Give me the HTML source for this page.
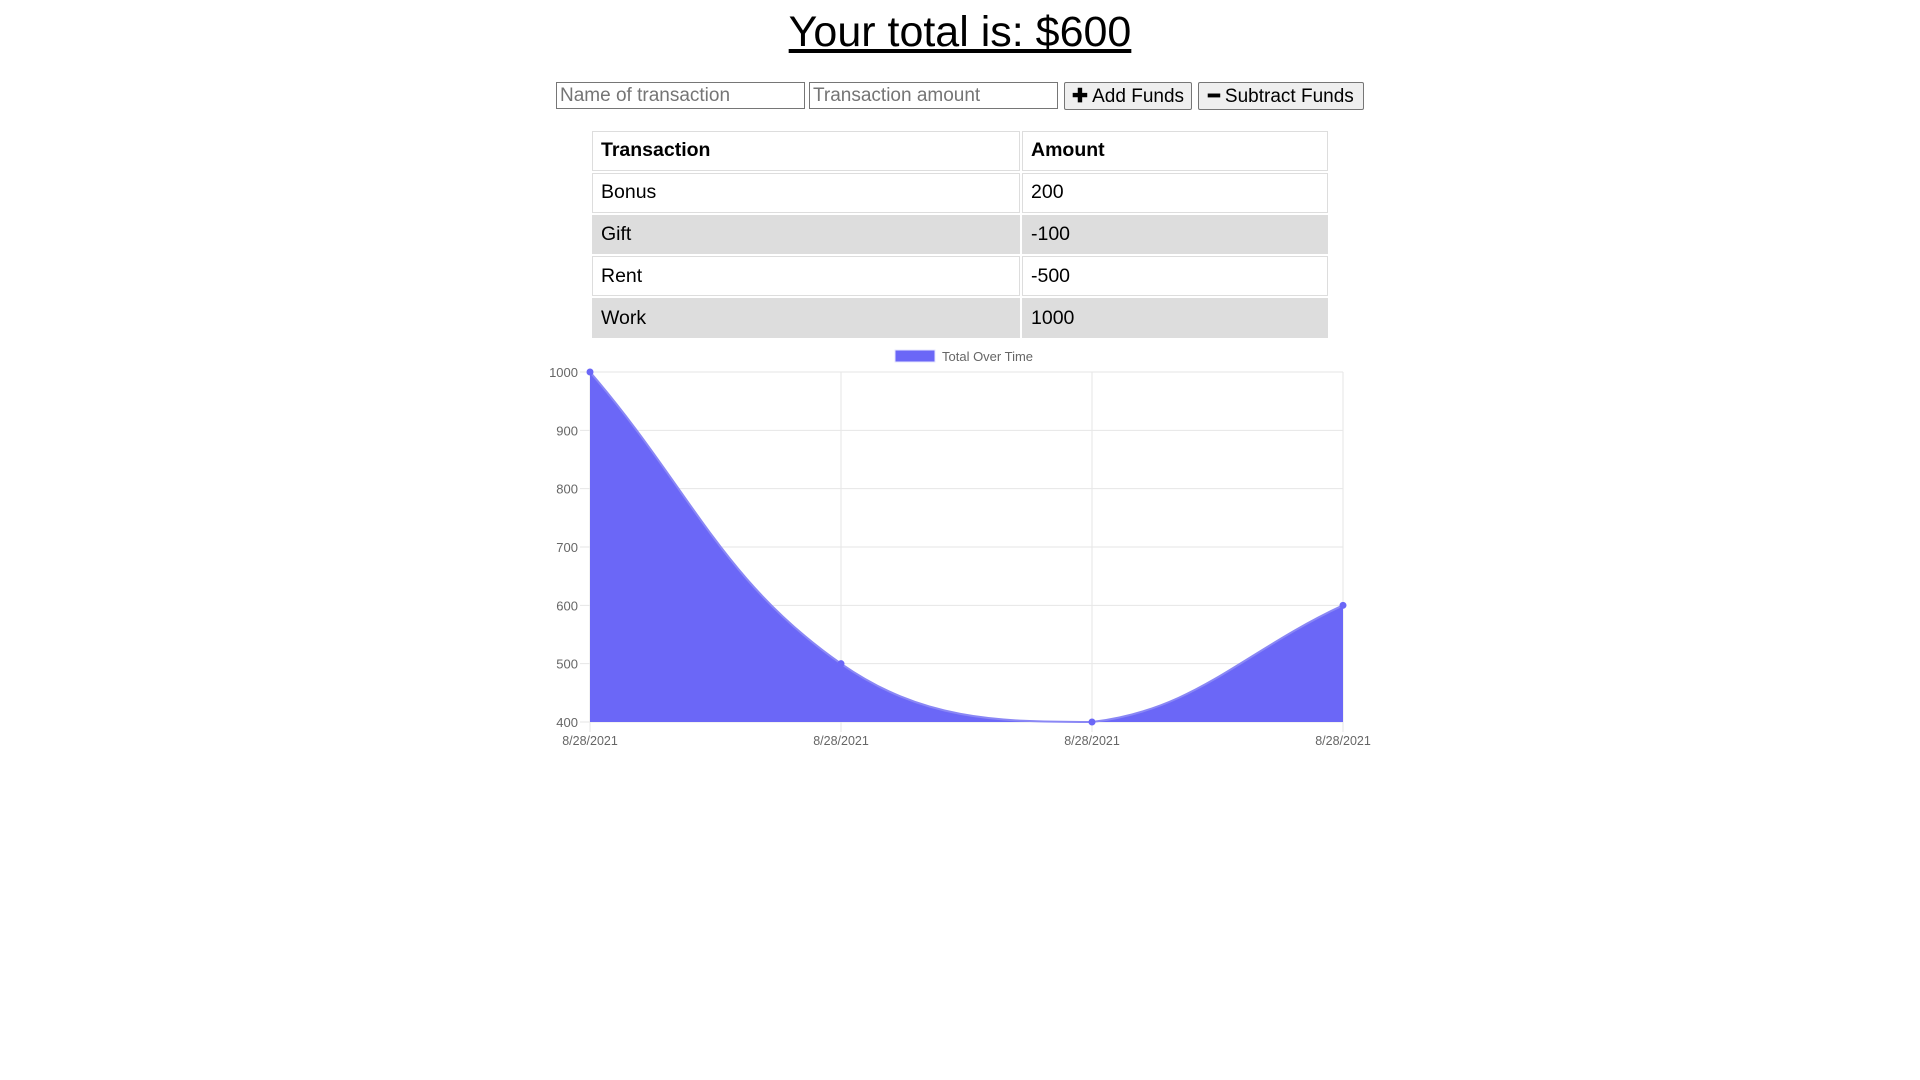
<!DOCTYPE html>
<html><head><meta charset="utf-8"><style>
body{margin:0;width:1920px;height:1080px;background:#fff;font-family:"Liberation Sans",sans-serif;position:relative;overflow:hidden}
h1{position:absolute;left:0;width:1920px;top:1px;margin:0;text-align:center;font-weight:normal;font-size:43px;line-height:62px;text-decoration:underline;color:#000}
input{position:absolute;top:82px;height:27px;box-sizing:border-box;border:1px solid #767676;font-family:"Liberation Sans",sans-serif;font-size:19px;padding:0 3px;width:249px}
input::placeholder{color:#757575}
button{position:absolute;top:82px;height:28px;box-sizing:border-box;border:1px solid #767676;background:#efefef;font-family:"Liberation Sans",sans-serif;font-size:19px;padding:0 6px;border-radius:2px;color:#000}
table{position:absolute;left:590px;top:129px;width:740px;border-collapse:separate;border-spacing:2px;font-size:19.5px}
td,th{border:1px solid #ddd;height:37.8px;padding:0 8px;text-align:left}
th{font-weight:bold}
tr.g td{background:#ddd}
</style></head><body>
<h1>Your total is: $600</h1>
<input style="left:556px" placeholder="Name of transaction">
<input style="left:809px" placeholder="Transaction amount">
<button style="left:1064px;width:128px"><b>✚</b> Add Funds</button>
<button style="left:1198px;width:166px"><b>━</b> Subtract Funds</button>
<table>
<tr><th style="width:410px">Transaction</th><th>Amount</th></tr>
<tr><td>Bonus</td><td>200</td></tr>
<tr class="g"><td>Gift</td><td>-100</td></tr>
<tr><td>Rent</td><td>-500</td></tr>
<tr class="g"><td>Work</td><td>1000</td></tr>
</table>
<svg id="chart" width="1920" height="1080" style="position:absolute;left:0;top:0" font-family="Liberation Sans, sans-serif"></svg>
<script>
const categories=["8/28/2021","8/28/2021","8/28/2021","8/28/2021"];
const totals=[1000,500,400,600];
const yTicks=[400,500,600,700,800,900,1000];
const legendLabel="Total Over Time";
const svg=document.getElementById('chart');
const NS='http://www.w3.org/2000/svg';
const L=590,R=1343,T=372,B=722,yMin=400,yMax=1000;
const xs=i=>L+(R-L)*i/(categories.length-1);
const ys=v=>B-(B-T)*(v-yMin)/(yMax-yMin);
function mk(t,a){const e=document.createElementNS(NS,t);for(const k in a)e.setAttribute(k,a[k]);svg.appendChild(e);return e;}
yTicks.forEach(v=>{
 const g=mk('line',{x1:L-10,x2:R,y1:ys(v),y2:ys(v),stroke:'#e6e6e6','stroke-width':1});
 
 
 const t=mk('text',{x:L-12,y:ys(v)+5,'text-anchor':'end','font-size':13,fill:'#666'});t.textContent=v;
 
 
});
categories.forEach((c,i)=>{
 const g=mk('line',{x1:xs(i),x2:xs(i),y1:T,y2:B+10,stroke:'#e6e6e6','stroke-width':1});
 
 
 const t=mk('text',{x:xs(i),y:B+23,'text-anchor':'middle','font-size':12.5,fill:'#666'});t.textContent=c;
 
 
});
const pts=totals.map((v,i)=>({x:xs(i),y:ys(v)}));
const tension=0.4;
const cps=pts.map((p,i)=>{
 const p0=pts[i-1]||p,p2=pts[i+1]||p;
 const d01=Math.hypot(p.x-p0.x,p.y-p0.y),d12=Math.hypot(p2.x-p.x,p2.y-p.y);
 let s01=d01/(d01+d12),s12=d12/(d01+d12);if(isNaN(s01))s01=0;if(isNaN(s12))s12=0;
 const fa=tension*s01,fb=tension*s12;
 const cl=(x,y)=>({x:Math.min(R,Math.max(L,x)),y:Math.min(B,Math.max(T,y))});
 return {prev:cl(p.x-fa*(p2.x-p0.x),p.y-fa*(p2.y-p0.y)),next:cl(p.x+fb*(p2.x-p0.x),p.y+fb*(p2.y-p0.y))};
});
let d='M'+pts[0].x+','+pts[0].y;
for(let i=1;i<pts.length;i++){d+=' C'+cps[i-1].next.x+','+cps[i-1].next.y+' '+cps[i].prev.x+','+cps[i].prev.y+' '+pts[i].x+','+pts[i].y;}
const area=mk('path',{d:d+' L'+pts[pts.length-1].x+','+B+' L'+pts[0].x+','+B+' Z',fill:'#6b67f7'});


const line=mk('path',{d:d,fill:'none',stroke:'#8a87f5','stroke-width':2});


pts.forEach(p=>{const c=mk('circle',{cx:p.x,cy:p.y,r:3.5,fill:'#6b67f7'});
 
 });
const lb=mk('rect',{x:895,y:350,width:40,height:12,fill:'#6b67f7',stroke:'#e6e6ff'});


const lt=mk('text',{x:942,y:361,'font-size':13,fill:'#666'});lt.textContent=legendLabel;


</script>
</body></html>
